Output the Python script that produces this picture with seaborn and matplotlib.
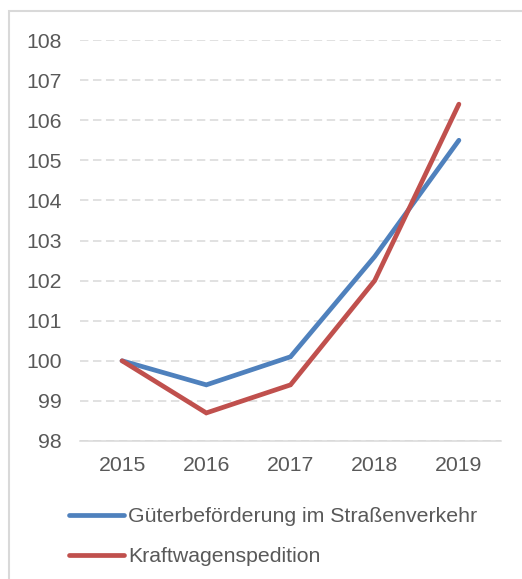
import matplotlib
matplotlib.use("Agg")
import matplotlib.pyplot as plt
import matplotlib.patches as mpatches
import pandas as pd
import seaborn as sns

# index values 2015 = 100
years = ["2015", "2016", "2017", "2018", "2019"]
gueter = [100.0, 99.4, 100.1, 102.6, 105.5]
spedition = [100.0, 98.7, 99.4, 102.0, 106.4]
series_names = ["Güterbeförderung im Straßenverkehr", "Kraftwagenspedition"]
colors = ["#4F81BD", "#C0504D"]

df = pd.DataFrame({
    "year": years * 2,
    "value": gueter + spedition,
    "series": [series_names[0]] * len(years) + [series_names[1]] * len(years),
})

sns.set_style("white")
plt.rcParams["font.family"] = ["Liberation Sans", "DejaVu Sans"]
text_col = "#595959"
grid_col = "#D9D9D9"
fs = 15.3

fig = plt.figure(figsize=(5.22, 5.79), dpi=100)
ax = fig.add_axes([80 / 522, 1 - 441 / 579, 421 / 522, 401 / 579])

sns.lineplot(data=df, x="year", y="value", hue="series", palette=colors,
             linewidth=3.4, sort=False, ax=ax, legend=True)
for ln in ax.get_lines():
    ln.set_solid_capstyle("round")
    ln.set_solid_joinstyle("miter")

ax.set_xlim(-0.5, len(years) - 0.5)
ax.set_ylim(98, 108)
ax.set_yticks(range(98, 109))
ax.set_xlabel("")
ax.set_ylabel("")
ax.yaxis.grid(True, color=grid_col, linestyle=(0, (5.5, 3)), linewidth=1.1)
ax.set_axisbelow(True)
for s in ["top", "right", "left"]:
    ax.spines[s].set_visible(False)
ax.spines["bottom"].set_color(grid_col)
ax.spines["bottom"].set_linewidth(1.1)
ax.tick_params(axis="both", length=0, labelsize=fs, colors=text_col)
ax.tick_params(axis="y", pad=13)
ax.tick_params(axis="x", pad=10.5)

handles, labels = ax.get_legend_handles_labels()
ax.get_legend().remove()
leg = fig.legend(handles, labels, loc="upper left",
                 bbox_to_anchor=(69 / 522, 1 - 507 / 579), frameon=False,
                 fontsize=fs, handlelength=2.6, handletextpad=0.19,
                 labelspacing=1.0, borderpad=0, borderaxespad=0)
for t in leg.get_texts():
    t.set_color(text_col)
for h in leg.legend_handles:
    h.set_linewidth(3.4)
    h.set_solid_capstyle("round")

# chart frame
fig.patches.append(mpatches.Rectangle((9 / 522, -0.05), 1.0, 1 - 11 / 579 + 0.05,
                                      transform=fig.transFigure, fill=False,
                                      edgecolor=grid_col, linewidth=1.5))

fig.savefig("out.png", dpi=100)
